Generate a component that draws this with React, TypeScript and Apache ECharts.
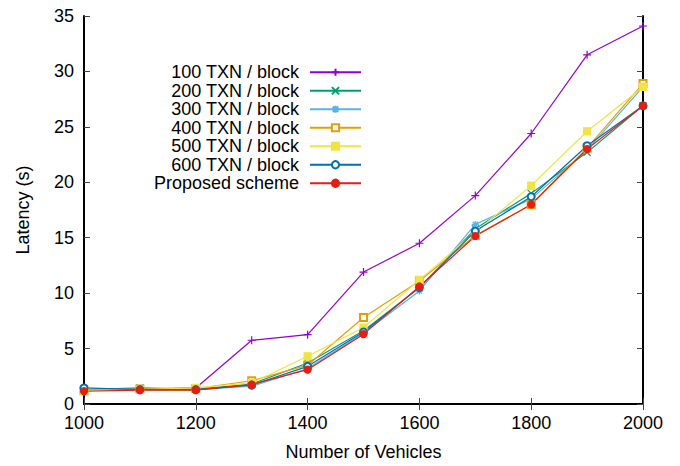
import React, { useEffect, useRef } from "react";
import * as echarts from "echarts";

const vehicles = [1000, 1100, 1200, 1300, 1400, 1500, 1600, 1700, 1800, 1900, 2000];
const txn100 = [1.2, 1.35, 1.45, 5.75, 6.25, 11.9, 14.5, 18.8, 24.4, 31.5, 34.1];
const txn200 = [1.3, 1.45, 1.35, 1.8, 3.7, 6.6, 10.5, 15.8, 19.0, 22.7, 26.9];
const txn300 = [1.3, 1.35, 1.3, 1.6, 3.2, 6.4, 10.2, 16.2, 18.5, 22.9, 28.6];
const txn400 = [1.2, 1.35, 1.4, 2.1, 3.5, 7.8, 11.1, 15.2, 18.0, 23.1, 28.9];
const txn500 = [1.2, 1.3, 1.45, 1.9, 4.3, 6.9, 11.2, 15.5, 19.7, 24.6, 28.6];
const txn600 = [1.45, 1.3, 1.3, 1.7, 3.4, 6.5, 10.5, 15.6, 18.7, 23.3, 26.9];
const proposed = [1.15, 1.25, 1.25, 1.75, 3.1, 6.3, 10.6, 15.15, 18.0, 23.0, 26.9];

const seriesNames = [
  "100 TXN / block",
  "200 TXN / block",
  "300 TXN / block",
  "400 TXN / block",
  "500 TXN / block",
  "600 TXN / block",
  "Proposed scheme",
];
const seriesValues = [txn100, txn200, txn300, txn400, txn500, txn600, proposed];
const seriesColors = ["#9400d3", "#009e73", "#56b4e9", "#e69f00", "#f0e442", "#0072b2", "#e51e10"];
const seriesSymbols = [
  "path://M0,4L8,4M4,0L4,8",
  "path://M0,0L8,8M8,0L0,8",
  "path://M0,4L8,4M4,0L4,8M1,1L7,7M7,1L1,7",
  "emptyRect",
  "rect",
  "emptyCircle",
  "circle",
];
const seriesSymbolSizes = [8, 7, 7, 7, 7, 7, 7];

const FONT = "'Liberation Sans', Arial, Helvetica, sans-serif";

export default function App() {
  const ref = useRef<HTMLDivElement>(null);
  useEffect(() => {
    if (!ref.current) return;
    const chart = echarts.init(ref.current, null, { renderer: "svg" });
    const frameLine = { show: true, lineStyle: { color: "#000", width: 2 } };
    const tick = { show: true, inside: true, length: 6, lineStyle: { color: "#444", width: 1 } };
    const xCommon = { type: "value" as const, min: 1000, max: 2000, interval: 200, splitLine: { show: false } };
    const yCommon = { type: "value" as const, min: 0, max: 35, interval: 5, splitLine: { show: false } };
    const series = seriesNames.map((name, i) => ({
      name,
      type: "line",
      xAxisIndex: 0,
      yAxisIndex: 0,
      data: vehicles.map((v, j) => [v, seriesValues[i][j]]),
      symbol: seriesSymbols[i],
      symbolSize: seriesSymbolSizes[i],
      showAllSymbol: true,
      color: seriesColors[i],
      lineStyle: { color: seriesColors[i], width: 1.2 },
      itemStyle: { color: seriesColors[i], borderColor: seriesColors[i], borderWidth: 1.2 },
      emphasis: { disabled: true },
    }));
    chart.setOption({
      animation: false,
      backgroundColor: "#fff",
      textStyle: { fontFamily: FONT },
      grid: { left: 84, right: 37, top: 16, bottom: 58, containLabel: false },
      legend: {
        orient: "vertical",
        right: 313,
        top: 58,
        align: "right",
        itemWidth: 51,
        itemHeight: 9,
        itemGap: 0,
        data: seriesNames,
        textStyle: { fontSize: 18, color: "#000", fontFamily: FONT, lineHeight: 18.5, padding: [0, 6, 0, 0] },
      },
      xAxis: [
        {
          ...xCommon,
          position: "bottom",
          name: "Number of Vehicles",
          nameLocation: "middle",
          nameGap: 39,
          nameTextStyle: { fontSize: 18, color: "#000", fontFamily: FONT },
          axisLine: frameLine,
          axisTick: tick,
          axisLabel: { fontSize: 18, color: "#000", margin: 10, fontFamily: FONT, formatter: (v: number) => String(v) },
        },
        {
          ...xCommon,
          position: "top",
          axisLine: frameLine,
          axisTick: tick,
          axisLabel: { show: false },
        },
      ],
      yAxis: [
        {
          ...yCommon,
          position: "left",
          name: "Latency (s)",
          nameLocation: "middle",
          nameGap: 52,
          nameTextStyle: { fontSize: 18, color: "#000", fontFamily: FONT },
          axisLine: frameLine,
          axisTick: tick,
          axisLabel: { fontSize: 18, color: "#000", margin: 10, fontFamily: FONT, formatter: (v: number) => String(v) },
        },
        {
          ...yCommon,
          position: "right",
          axisLine: frameLine,
          axisTick: tick,
          axisLabel: { show: false },
        },
      ],
      series,
    });
    return () => chart.dispose();
  }, []);
  return <div ref={ref} style={{ position: "fixed", left: 0, top: 0, width: 680, height: 466 }} />;
}
